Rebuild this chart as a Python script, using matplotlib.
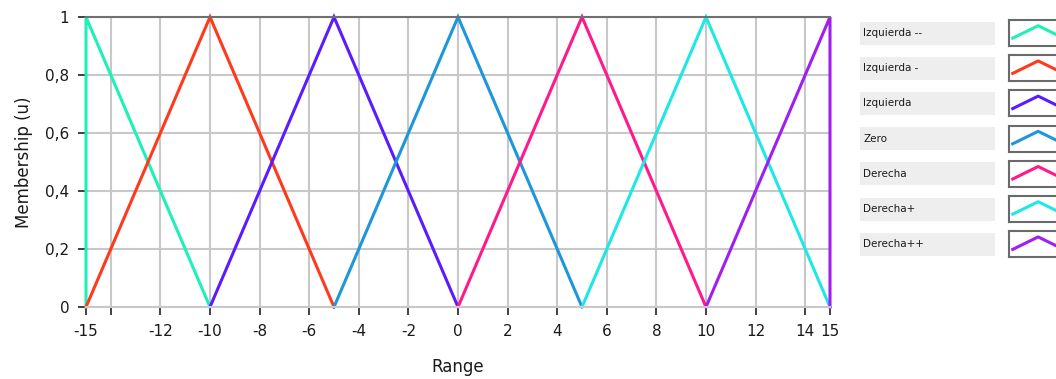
import matplotlib.pyplot as plt
from matplotlib.patches import Rectangle

# membership functions: (x points, y points) per fuzzy set
names = ['Izquierda --', 'Izquierda -', 'Izquierda', 'Zero',
         'Derecha', 'Derecha+', 'Derecha++']
xs = [[-15, -15, -10],
      [-15, -10, -5],
      [-10, -5, 0],
      [-5, 0, 5],
      [0, 5, 10],
      [5, 10, 15],
      [10, 15, 15]]
ys = [[0, 1, 0],
      [0, 1, 0],
      [0, 1, 0],
      [0, 1, 0],
      [0, 1, 0],
      [0, 1, 0],
      [0, 1, 0]]
colors = ['#1ef0b8', '#ff3a1c', '#5a1cff', '#1e96dc',
          '#ff1a8c', '#1ee8e4', '#a01ef0']

xticks = [-15, -14, -12, -10, -8, -6, -4, -2, 0, 2, 4, 6, 8, 10, 12, 14, 15]
xticklabels = ['-15', '', '-12', '-10', '-8', '-6', '-4', '-2', '0',
               '2', '4', '6', '8', '10', '12', '14', '15']
yticks = [0, 0.2, 0.4, 0.6, 0.8, 1]
yticklabels = ['0', '0,2', '0,4', '0,6', '0,8', '1']

W, H = 1056, 379
fig = plt.figure(figsize=(W / 100, H / 100), dpi=100)
ax = fig.add_axes([86 / W, 1 - 307 / H, (830 - 86) / W, (307 - 17) / H])

ax.grid(True, color='#c8c8c8', linewidth=1.5)
ax.set_axisbelow(True)
for x, y, c in zip(xs, ys, colors):
    ax.plot(x, y, color=c, linewidth=2.2, solid_joinstyle='miter', clip_on=False)

ax.set_xlim(-15, 15)
ax.set_ylim(0, 1)
ax.set_xticks(xticks)
ax.set_xticklabels(xticklabels)
ax.set_yticks(yticks)
ax.set_yticklabels(yticklabels)
ax.tick_params(axis='both', direction='out', length=6, width=1.2,
               color='#202020', labelsize=11, labelcolor='#1a1a1a', pad=6)
for s in ['left', 'right']:
    ax.spines[s].set_visible(False)
ax.spines['top'].set_color('#707070')
ax.spines['top'].set_linewidth(1.5)
ax.spines['bottom'].set_color('#c8c8c8')
ax.spines['bottom'].set_linewidth(1.5)
ax.set_xlabel('Range', fontsize=12, color='#1a1a1a', labelpad=14)
ax.set_ylabel('Membership (u)', fontsize=12, color='#1a1a1a', labelpad=9)

# legend panel on the right
row0 = 33
step = 35.2
for i, (n, c) in enumerate(zip(names, colors)):
    cy = row0 + i * step
    fig.patches.append(Rectangle((860 / W, 1 - (cy + 11.5) / H), 135 / W, 23 / H,
                                 transform=fig.transFigure, facecolor='#eeeeee',
                                 edgecolor='none'))
    fig.text(863 / W, 1 - cy / H, n, fontsize=7.5, va='center', ha='left',
             color='#1a1a1a')
    sw = fig.add_axes([1009 / W, 1 - (cy + 13) / H, 50 / W, 26 / H])
    sw.plot([0, 0.55, 1.1], [0.3, 0.78, 0.3], color=c, linewidth=2.2)
    sw.set_xlim(-0.08, 1.0)
    sw.set_ylim(0, 1)
    sw.set_xticks([])
    sw.set_yticks([])
    for s in sw.spines.values():
        s.set_color('#6a6a6a')
        s.set_linewidth(1.5)

fig.savefig('out.png', dpi=100)
